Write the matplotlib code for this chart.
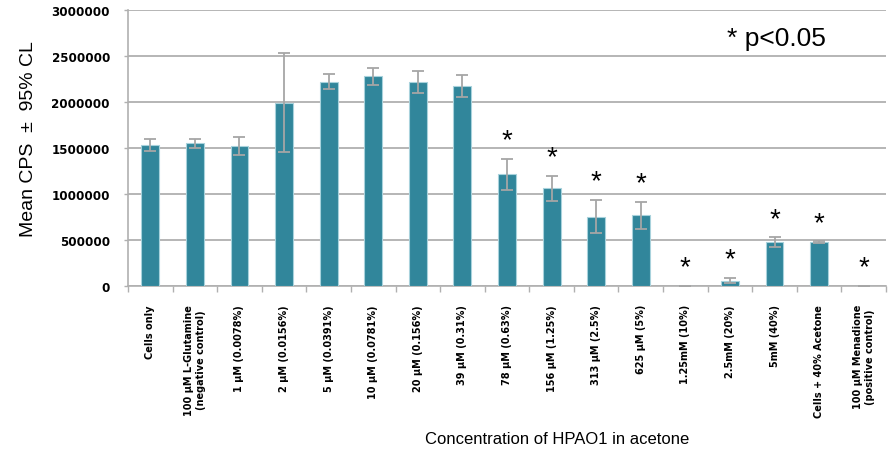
import matplotlib
matplotlib.use("Agg")
import matplotlib.pyplot as plt
import numpy as np

# data
categories = ["Cells only",
              "100 \u00b5M L-Glutamine\n(negative control)",
              "1 \u00b5M (0.0078%)",
              "2 \u00b5M (0.0156%)",
              "5 \u00b5M (0.0391%)",
              "10 \u00b5M (0.0781%)",
              "20 \u00b5M (0.156%)",
              "39 \u00b5M (0.31%)",
              "78 \u00b5M (0.63%)",
              "156 \u00b5M (1.25%)",
              "313 \u00b5M (2.5%)",
              "625 \u00b5M (5%)",
              "1.25mM (10%)",
              "2.5mM (20%)",
              "5mM (40%)",
              "Cells + 40% Acetone",
              "100 \u00b5M Menadione\n(positive control)"]
mean_cps = [1533000, 1551000, 1522000, 1993000, 2221000, 2279000, 2214000, 2174000,
            1214000, 1062000, 754000, 768000, 5000, 58000, 475000, 475000, 3000]
ci95 = [70000, 50000, 95000, 540000, 80000, 90000, 120000, 120000,
        170000, 135000, 180000, 150000, 0, 30000, 55000, 10000, 0]
significant = [False] * 8 + [True] * 9

bar_color = "#31869b"
grid_color = "#b0b0b0"

fig = plt.figure(figsize=(8.88, 4.64), dpi=100)
ax = fig.add_axes([128 / 888, 1 - 287 / 464, 758 / 888, 276 / 464])

x = np.arange(len(categories))
ax.bar(x, mean_cps, width=0.4, color=bar_color, edgecolor="#a8d2dc", linewidth=0.8, zorder=3)
ax.errorbar(x, mean_cps, yerr=ci95, fmt="none", ecolor="#a6a6a6", elinewidth=1.3,
            capsize=4.3, capthick=1.3, zorder=4)

for i in range(len(categories)):
    if significant[i]:
        ax.text(x[i], mean_cps[i] + ci95[i] + 200000, "*", ha="center", va="center",
                fontsize=20, family="Liberation Sans", zorder=5)

ax.text(0.855, 0.9, "* p<0.05", transform=ax.transAxes, ha="center", va="center",
        fontsize=19, family="Liberation Sans")

ax.set_xlim(-0.5, len(categories) - 0.5)
ax.set_ylim(0, 3000000)
ax.set_yticks(np.arange(0, 3000001, 500000))
ax.set_yticklabels([str(v) for v in range(0, 3000001, 500000)], fontsize=8.6, fontweight="bold")
ax.yaxis.grid(True, color=grid_color, linewidth=1.3, zorder=0)
ax.set_axisbelow(True)

ax.set_xticks(x)
ax.set_xticklabels(categories, rotation=90, fontsize=7, fontweight="bold",
                   ha="center", va="top", multialignment="center")
ax.set_xticks(np.arange(-0.5, len(categories), 1), minor=True)
ax.tick_params(axis="x", which="major", length=0, pad=13)
ax.tick_params(axis="x", which="minor", length=4, color=grid_color, width=1)
ax.tick_params(axis="y", length=3, color=grid_color, width=1, pad=10)

for side in ["top", "right"]:
    ax.spines[side].set_visible(False)
ax.spines["left"].set_color(grid_color)
ax.spines["bottom"].set_color(grid_color)
ax.spines["left"].set_linewidth(1.2)
ax.spines["bottom"].set_linewidth(1.2)

ax.set_ylabel("Mean CPS  \u00b1  95% CL", fontsize=14, family="Liberation Sans")
ax.yaxis.set_label_coords(-0.12, 0.536)
fig.text(557 / 888, 1 - 440 / 464, "Concentration of HPAO1 in acetone", ha="center", va="center",
         fontsize=12, family="Liberation Sans")

fig.savefig("out.png", dpi=100)
